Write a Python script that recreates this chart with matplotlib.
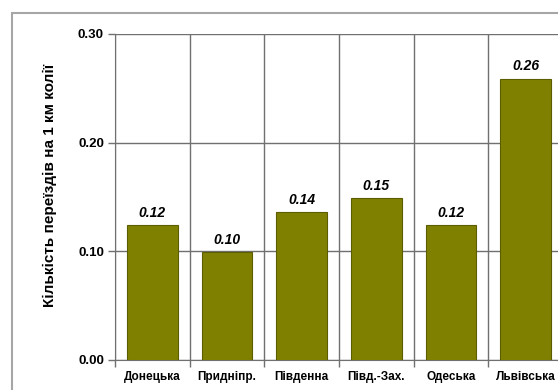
import matplotlib.pyplot as plt
from matplotlib.patches import Rectangle

regions = ['Донецька', 'Придніпр.', 'Південна', 'Півд.-Зах.', 'Одеська', 'Львівська']
crossings = [0.124, 0.099, 0.136, 0.149, 0.124, 0.259]
yticks = [0.0, 0.1, 0.2, 0.3]

plt.rcParams['font.family'] = ['Liberation Sans', 'DejaVu Sans']

W, H = 558, 390
fig = plt.figure(figsize=(W / 100, H / 100), dpi=100)

# outer chart-area frame (cut off on the right and bottom)
fig.patches.append(Rectangle((12 / W, -0.1), 1.2, 1 - 13 / H + 0.1,
                             transform=fig.transFigure, fill=False,
                             edgecolor='#a6a6a6', linewidth=1.5))

left, right, top, bottom = 115, 563, 34, 360
ax = fig.add_axes([left / W, 1 - bottom / H, (right - left) / W, (bottom - top) / H])

x = range(len(regions))
ax.bar(x, crossings, width=0.68, color='#808000', edgecolor='#5c5c00', linewidth=0.8, zorder=3)
for i, v in enumerate(crossings):
    ax.text(i, v + 0.005, f'{v:.2f}', ha='center', va='bottom',
            fontsize=10, fontweight='bold', fontstyle='italic', zorder=4)

ax.set_xlim(-0.5, len(regions) - 0.5)
ax.set_ylim(0, 0.3)
ax.set_yticks(yticks)
ax.set_yticklabels([f'{t:.2f}' for t in yticks], fontsize=9.5, fontweight='bold')
ax.set_xticks([i - 0.5 for i in range(len(regions) + 1)], minor=False)
ax.set_xticklabels([])
ax.set_xticks(list(x), minor=True)
ax.set_xticklabels(regions, minor=True, fontsize=8.5, fontweight='bold')
ax.tick_params(axis='x', which='minor', length=0, pad=8)
ax.tick_params(axis='x', which='major', length=5, color='#707070', width=1)
ax.tick_params(axis='y', length=5, color='#707070', width=1, pad=3)

ax.grid(True, which='major', color='#707070', linewidth=1, zorder=0)
for s in ['top', 'right']:
    ax.spines[s].set_visible(False)
ax.spines['left'].set_color('#707070')
ax.spines['bottom'].set_color('#707070')

ax.set_ylabel('Кількість переїздів на 1 км колії', fontsize=11, fontweight='bold')
ax.yaxis.set_label_coords(-0.13, 0.535)

fig.savefig('out.png', dpi=100)
